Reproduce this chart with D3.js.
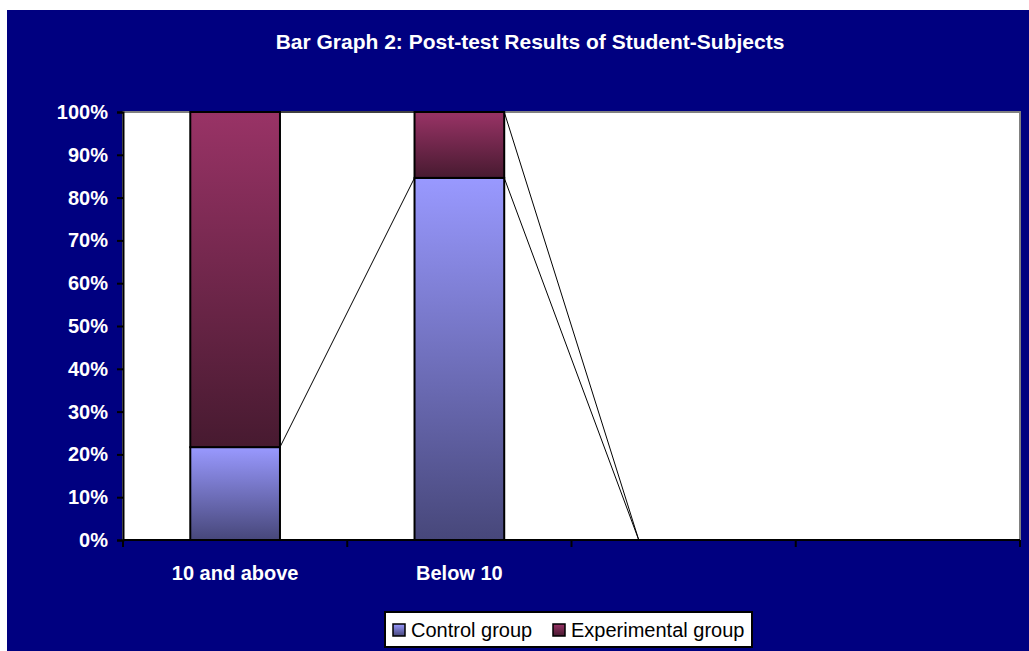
<!DOCTYPE html>
<html>
<head>
<meta charset="utf-8">
<script src="https://cdn.jsdelivr.net/npm/d3@7"></script>
<style>
  body { margin: 0; background: #fff; }
  text { font-family: "Liberation Sans", Arial, sans-serif; }
</style>
</head>
<body>
<div id="chart"></div>
<script>
// data (percent of each group)
var categories = ['10 and above', 'Below 10', '', ''];
var seriesNames = ['Control group', 'Experimental group'];
var controlGroup = [21.7, 84.6, 0, 0];
var experimentalGroup = [78.3, 15.4, 0, 0];
var yTicks = [0, 10, 20, 30, 40, 50, 60, 70, 80, 90, 100];

var width = 1029, height = 651;
var margin = {top: 112, right: 9, bottom: 111, left: 123};

var svg = d3.select('#chart').append('svg')
    .attr('width', width)
    .attr('height', height);

// gradients, one per series (per segment)
var defs = svg.append('defs');
var gradColors = [['#9999ff', '#47477a'], ['#993366', '#471a30']];
gradColors.forEach(function(c, i) {
    var g = defs.append('linearGradient')
        .attr('id', 'grad' + i)
        .attr('x1', 0).attr('y1', 0).attr('x2', 0).attr('y2', 1);
    g.append('stop').attr('offset', '0%').attr('stop-color', c[0]);
    g.append('stop').attr('offset', '100%').attr('stop-color', c[1]);
});

// navy chart area
svg.append('rect')
    .attr('x', 7).attr('y', 10)
    .attr('width', width - 7).attr('height', height - 10)
    .attr('fill', '#000080');

svg.append('text')
    .attr('x', 530).attr('y', 49)
    .attr('text-anchor', 'middle')
    .attr('fill', '#fff')
    .attr('font-weight', 'bold')
    .attr('font-size', 21)
    .text('Bar Graph 2: Post-test Results of Student-Subjects');

var innerW = width - margin.left - margin.right,
    innerH = height - margin.top - margin.bottom;

var x = d3.scaleBand()
    .domain(d3.range(categories.length))
    .range([margin.left, margin.left + innerW])
    .paddingInner(0.6)
    .paddingOuter(0.3);

var y = d3.scaleLinear()
    .domain([0, 100])
    .range([margin.top + innerH, margin.top]);

// plot area
svg.append('rect')
    .attr('x', margin.left).attr('y', margin.top)
    .attr('width', innerW).attr('height', innerH)
    .attr('fill', '#fff')
    .attr('stroke', '#808080')
    .attr('stroke-width', 2);

var table = categories.map(function(c, i) {
    return {i: i, control: controlGroup[i], experimental: experimentalGroup[i]};
});
var stacked = d3.stack().keys(['control', 'experimental'])(table);

// series lines between bars
var plotG = svg.append('g');
stacked.forEach(function(layer) {
    for (var k = 0; k < layer.length - 1; k++) {
        var a = layer[k], b = layer[k + 1];
        if (a.data.control + a.data.experimental === 0) continue;
        var yb = b.data.control + b.data.experimental > 0 ? y(b[1]) : y(0);
        plotG.append('line')
            .attr('x1', x(k) + x.bandwidth()).attr('y1', y(a[1]))
            .attr('x2', x(k + 1)).attr('y2', yb)
            .attr('stroke', '#000')
            .attr('stroke-width', 1);
    }
});

// bars
stacked.forEach(function(layer, si) {
    plotG.selectAll(null)
        .data(layer.filter(function(d) { return d[1] - d[0] > 0; }))
        .enter()
        .append('rect')
        .attr('x', function(d) { return x(d.data.i); })
        .attr('y', function(d) { return y(d[1]); })
        .attr('width', x.bandwidth())
        .attr('height', function(d) { return y(d[0]) - y(d[1]); })
        .attr('fill', 'url(#grad' + si + ')')
        .attr('stroke', '#000')
        .attr('stroke-width', 2);
});

// y axis
var yAxis = svg.append('g')
    .attr('transform', 'translate(' + margin.left + ',0)')
    .call(d3.axisLeft(y).tickValues(yTicks).tickSize(6).tickPadding(9)
        .tickFormat(function(d) { return d + '%'; }));
yAxis.select('.domain').attr('stroke', '#000').attr('stroke-width', 2);
yAxis.selectAll('.tick line').attr('stroke', '#000').attr('stroke-width', 2);
yAxis.selectAll('.tick text')
    .attr('fill', '#fff')
    .attr('font-size', 20)
    .attr('font-weight', 'bold')
    .attr('font-family', '"Liberation Sans", Arial, sans-serif');

// x axis
var xAxisG = svg.append('g')
    .attr('transform', 'translate(0,' + (margin.top + innerH) + ')');
xAxisG.append('line')
    .attr('x1', margin.left).attr('x2', margin.left + innerW)
    .attr('stroke', '#000').attr('stroke-width', 2);
var edges = d3.range(categories.length + 1).map(function(i) {
    return margin.left + i * innerW / categories.length;
});
xAxisG.selectAll('.xt').data(edges).enter().append('line')
    .attr('x1', function(d) { return d; }).attr('x2', function(d) { return d; })
    .attr('y1', 0).attr('y2', 7)
    .attr('stroke', '#000').attr('stroke-width', 2);
xAxisG.selectAll('.xl').data(categories).enter().append('text')
    .attr('x', function(d, i) { return x(i) + x.bandwidth() / 2; })
    .attr('y', 40)
    .attr('text-anchor', 'middle')
    .attr('fill', '#fff')
    .attr('font-size', 20)
    .attr('font-weight', 'bold')
    .text(function(d) { return d; });

// legend
var legend = svg.append('g').attr('transform', 'translate(385,612)');
legend.append('rect')
    .attr('width', 367).attr('height', 35)
    .attr('fill', '#fff')
    .attr('stroke', '#000')
    .attr('stroke-width', 2);
var lx = [8, 168];
seriesNames.forEach(function(name, i) {
    legend.append('rect')
        .attr('x', lx[i]).attr('y', 12)
        .attr('width', 12).attr('height', 12)
        .attr('fill', 'url(#grad' + i + ')')
        .attr('stroke', '#000')
        .attr('stroke-width', 1.5);
    legend.append('text')
        .attr('x', lx[i] + 18).attr('y', 25)
        .attr('font-size', 20)
        .attr('fill', '#000')
        .text(name);
});
</script>
</body>
</html>
